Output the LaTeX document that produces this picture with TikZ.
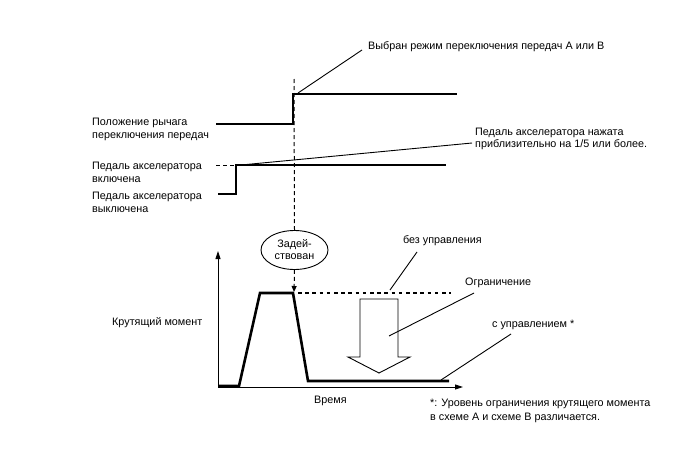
\documentclass[tikz,border=0pt]{standalone}
\usepackage{fontspec}
\setmainfont{Liberation Sans}
\usetikzlibrary{arrows.meta,shapes.geometric}
\begin{document}
\begin{tikzpicture}[x=1pt,y=-1pt,
  sig/.style={line width=2.6pt},
  thin/.style={line width=0.9pt},
  lbl/.style={font=\fontsize{10.8}{12.8}\selectfont, inner sep=0pt, align=left},
  dsh/.style={line width=1pt, dash pattern=on 4pt off 3pt}]
\useasboundingbox (0,0) rectangle (688,463);
% shift lever
\coordinate (s0) at (216,124);
\coordinate (s1) at (293,124);
\coordinate (s2) at (293,94);
\coordinate (s3) at (457,94);
\draw[sig, line join=miter] (s0) -- (s1) -- (s2) -- (s3);
% pedal
\coordinate (p0) at (218,194);
\coordinate (p1) at (236,194);
\coordinate (p2) at (236,165);
\coordinate (p3) at (446,165);
\coordinate (pd) at (216,165);
\draw[sig, line join=miter] (p0) -- (p1) -- (p2) -- (p3);
\draw[dsh] (pd) -- (p2);
% ellipse
\node[draw, thin, ellipse, minimum width=67pt, minimum height=39pt, inner sep=0pt, lbl, align=center, font=\fontsize{10.8}{12}\selectfont] (e) at (294.5,250) {Задей-\\ствован};
\coordinate (dtop) at (294,79);
\coordinate (pk) at (294,292);
\draw[dsh] (dtop) -- (e.north);
\draw[dsh, -{Triangle[length=6pt,width=5pt]}] (e.south) -- (pk);
% axes
\coordinate (o) at (218,387);
\coordinate (ytop) at (218,251);
\coordinate (xend) at (463,387);
\draw[thin, -{Triangle[length=8pt,width=5pt]}] (o) -- (ytop);
\draw[thin, -{Triangle[length=8pt,width=5pt]}] (o) -- (xend);
% torque curve
\coordinate (t0) at (218,386);
\coordinate (t1) at (239,386);
\coordinate (t2) at (260,293);
\coordinate (t3) at (293,293);
\coordinate (t4) at (308,381);
\coordinate (t5) at (449,381);
\draw[sig, line join=miter] (t0) -- (t1) -- (t2) -- (t3) -- (t4) -- (t5);
\coordinate (u0) at (298,293);
\coordinate (u1) at (451,293);
\draw[line width=2.8pt, dash pattern=on 3.6pt off 3.6pt] (u0) -- (u1);
% hollow arrow
\draw[thin, fill=white] (360,299) -- (398,299) -- (398,357) -- (410,357) -- (379,373) -- (348,357) -- (360,357) -- cycle;
% labels
\node[lbl, anchor=west] (lsel) at (368,47) {Выбран режим переключения передач A или B};
\coordinate (lsela) at (298,93);
\coordinate (lselb) at (362,50);
\draw[thin] (lsela) -- (lselb);
\node[lbl, anchor=west] (lped) at (475,139) {Педаль акселератора нажата\\приблизительно на 1/5 или более.};
\coordinate (lpeda) at (241,165);
\coordinate (lpedb) at (472,143);
\draw[thin] (lpeda) -- (lpedb);
\node[lbl, anchor=west] (lshift) at (92,129.5) {Положение рычага\\переключения передач};
\node[lbl, anchor=west] (lon) at (92,172) {Педаль акселератора\\включена};
\node[lbl, anchor=west] (loff) at (92,202) {Педаль акселератора\\выключена};
\node[lbl, anchor=east] (lbez) at (482,241) {без управления};
\coordinate (bez0) at (390,290);
\coordinate (bez1) at (417,252);
\draw[thin] (bez0) -- (bez1);
\node[lbl, anchor=west] (logr) at (465,283) {Ограничение};
\coordinate (ogr0) at (389,336);
\coordinate (ogr1) at (474,293);
\draw[thin] (ogr0) -- (ogr1);
\node[lbl, anchor=west] (lsu) at (492,325) {с управлением *};
\coordinate (su0) at (441,380);
\coordinate (su1) at (511,334);
\draw[thin] (su0) -- (su1);
\node[lbl, anchor=west] (ltq) at (112,323) {Крутящий момент};
\node[lbl, anchor=west] (ltime) at (314,401) {Время};
\node[lbl, anchor=west, font=\fontsize{10.8}{14}\selectfont] (lfoot) at (430,411) {*: Уровень ограничения крутящего момента\\в схеме A и схеме B различается.};
\end{tikzpicture}
\end{document}
